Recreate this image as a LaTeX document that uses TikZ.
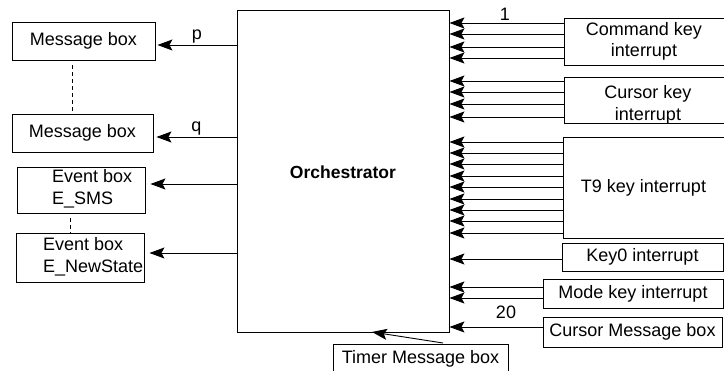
\documentclass[tikz,border=0pt]{standalone}
\usepackage{fontspec}
\setmainfont{Liberation Sans}
\usetikzlibrary{arrows.meta}
\begin{document}
\begin{tikzpicture}[x=1pt,y=-1pt,
  every node/.style={font=\fontsize{18}{21.5}\selectfont, inner sep=0pt},
  box/.style={draw, line width=0.9pt, align=center},
  arr/.style={line width=0.9pt, -{Stealth[length=15pt,width=11pt,inset=3pt]}},
  dline/.style={line width=0.9pt, dashed, dash pattern=on 4pt off 3pt}]
\useasboundingbox (0,0) rectangle (724,371);
% orchestrator
\node[box, minimum width=212pt, minimum height=322pt] (orch) at (343,171) {};
\node[font=\fontsize{17.5}{21}\selectfont\bfseries] (orchlbl) at (343,172) {Orchestrator};
% left boxes
\node[box, minimum width=143pt, minimum height=38pt] (msg1) at (83.5,41) {Message box};
\node[box, minimum width=141pt, minimum height=38pt] (msg2) at (82.5,133) {Message box};
\node[box, minimum width=128pt, minimum height=46pt] (ev1) at (81,190) {};
\node[anchor=west, align=left] (ev1t) at (52,189) {Event box\\E\_SMS};
\node[box, minimum width=128pt, minimum height=49pt] (ev2) at (80,257.5) {};
\node[anchor=west, align=left] (ev2t) at (43,257) {Event box\\E\_NewState};
\coordinate (dx1) at (72,0);
\coordinate (dx2) at (70,0);
\draw[dline] (msg1.south -| dx1) ++(0,5) coordinate (d1a) -- (msg2.north -| dx1);
\draw[dline] (ev1.south -| dx2) ++(0,5) -- (ev2.north -| dx2);
% left arrows
\coordinate (yp) at (0,45);
\coordinate (yq) at (0,137);
\coordinate (ye1) at (0,184);
\coordinate (ye2) at (0,253);
\draw[arr] (orch.west |- yp) -- ([xshift=2pt]msg1.east |- yp) node[midway, above=1pt] (plbl) {p};
\draw[arr] (orch.west |- yq) -- ([xshift=3pt]msg2.east |- yq) node[midway, above=1pt] (qlbl) {q};
\draw[arr] (orch.west |- ye1) -- ([xshift=5pt]ev1.east |- ye1);
\draw[arr] (orch.west |- ye2) -- ([xshift=5pt]ev2.east |- ye2);
% right boxes
\node[box, minimum width=160pt, minimum height=47pt] (cmd) at (644,41.5) {Command key\\interrupt};
\node[box, minimum width=160pt, minimum height=46pt] (cur) at (644,100) {};
\node[align=center] (curt) at (648,105) {Cursor key\\interrupt};
\node[box, minimum width=161pt, minimum height=101pt] (t9) at (643.5,187.5) {T9 key interrupt};
\node[box, minimum width=161pt, minimum height=28pt] (k0) at (642.5,257) {Key0 interrupt};
\node[box, minimum width=180pt, minimum height=29pt] (mode) at (633,293.5) {Mode key interrupt};
\node[box, minimum width=179pt, minimum height=30pt] (cmsg) at (632.5,332) {Cursor Message box};
% right arrows
\foreach \yy in {23,34,47,58} {\draw[arr] (cmd.west |- {(0,\yy)}) -- (orch.east |- {(0,\yy)});}
\foreach \yy in {81,92,104,117} {\draw[arr] (cur.west |- {(0,\yy)}) -- (orch.east |- {(0,\yy)});}
\foreach \yy in {142,153,164,176,187,199,210,221,233} {\draw[arr] (t9.west |- {(0,\yy)}) -- (orch.east |- {(0,\yy)});}
\draw[arr] (k0.west |- {(0,259)}) -- (orch.east |- {(0,259)});
\foreach \yy in {287,298} {\draw[arr] (mode.west |- {(0,\yy)}) -- (orch.east |- {(0,\yy)});}
\draw[arr] (cmsg.west |- {(0,327)}) -- (orch.east |- {(0,327)});
\node (one) at (505,14) {1};
\node (twenty) at (506,312) {20};
% timer
\node[box, minimum width=175pt, minimum height=30pt] (timer) at (420.5,359) {Timer Message box};
\coordinate (tstart) at (443,343);
\coordinate (tend) at (372,332);
\draw[arr] (tstart) -- (tend);
\end{tikzpicture}
\end{document}
